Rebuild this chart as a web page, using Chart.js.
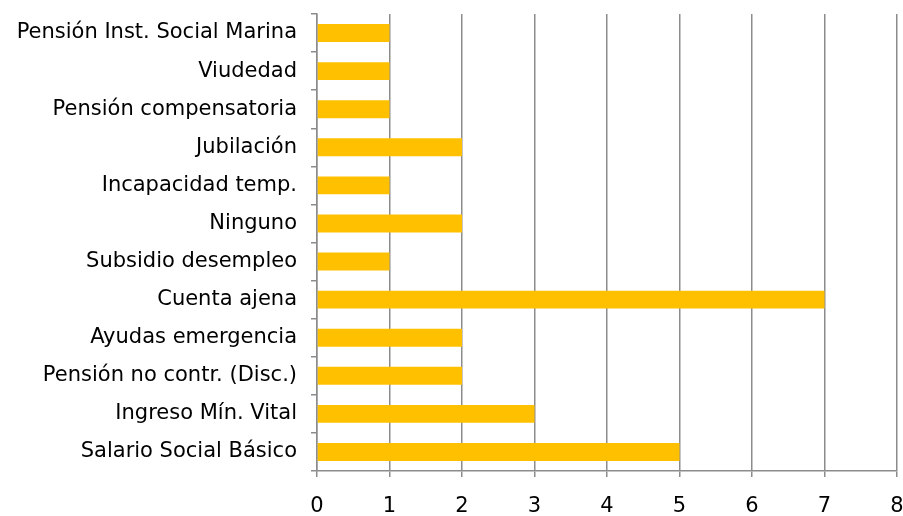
<!DOCTYPE html>
<html>
<head>
<meta charset="utf-8">
<script src="https://cdn.jsdelivr.net/npm/chart.js@4"></script>
<style>
  html, body { margin: 0; padding: 0; background: #fff; }
  #wrap { width: 903px; height: 516px; }
</style>
</head>
<body>
<div id="wrap"><canvas id="chart"></canvas></div>
<script>
const categories = [
  'Pensión Inst. Social Marina',
  'Viudedad',
  'Pensión compensatoria',
  'Jubilación',
  'Incapacidad temp.',
  'Ninguno',
  'Subsidio desempleo',
  'Cuenta ajena',
  'Ayudas emergencia',
  'Pensión no contr. (Disc.)',
  'Ingreso Mín. Vital',
  'Salario Social Básico'
];
const counts = [1, 1, 1, 2, 1, 2, 1, 7, 2, 2, 3, 5];
const xMax = 8;

const AXIS = '#8c8c8c';
const FONT = { family: '"DejaVu Sans", sans-serif', size: 21 };

new Chart(document.getElementById('chart').getContext('2d'), {
  type: 'bar',
  data: {
    labels: categories,
    datasets: [{
      data: counts,
      backgroundColor: '#FFC000',
      borderWidth: 0,
      barPercentage: 0.47,
      categoryPercentage: 1
    }]
  },
  options: {
    indexAxis: 'y',
    responsive: true,
    maintainAspectRatio: false,
    animation: false,
    layout: { padding: { top: 14, right: 6, left: 0, bottom: 0 } },
    plugins: { legend: { display: false }, tooltip: { enabled: false } },
    scales: {
      x: {
        min: 0,
        max: xMax,
        ticks: { stepSize: 1, color: '#000', font: FONT, padding: 17 },
        grid: { color: AXIS, lineWidth: 1.5, tickLength: 6 },
        border: { color: AXIS, width: 1.5 },
        afterFit: (s) => { s.height = 45; s.paddingLeft = 0; s.paddingRight = 0; }
      },
      y: {
        ticks: { color: '#000', font: FONT, padding: 14 },
        grid: { drawOnChartArea: false, color: AXIS, lineWidth: 1.5, tickLength: 6, offset: true },
        border: { color: AXIS, width: 1.5 },
        afterFit: (s) => { s.width = 317; s.paddingTop = 0; s.paddingBottom = 0; }
      }
    }
  }
});
</script>
</body>
</html>
